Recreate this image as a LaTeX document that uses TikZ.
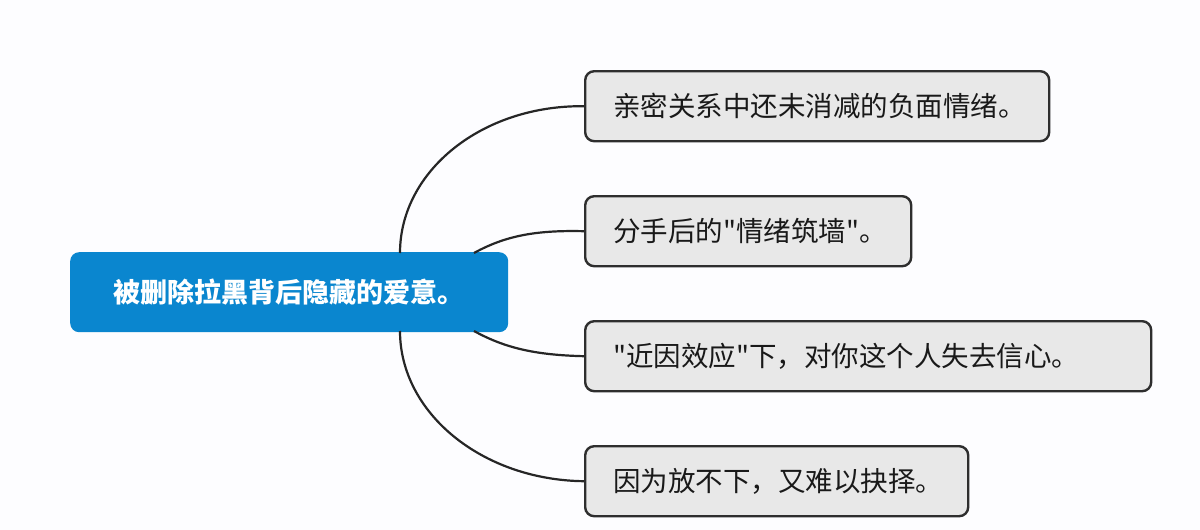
\documentclass[tikz,border=0pt]{standalone}
\usepackage{fontspec}
\newfontfamily\cjk{Noto Sans CJK SC}
\begin{document}
\begin{tikzpicture}[x=1pt,y=-1pt,
  leaf/.style={draw=black!82, line width=2.4pt, fill=black!9, rounded corners=9pt,
    anchor=north west, minimum height=70pt, inner xsep=28pt, inner ysep=0pt,
    align=left, font=\cjk\fontsize{27.5}{32}\selectfont, text=black!90},
  root/.style={fill=rootblue, rounded corners=9pt, anchor=north west,
    minimum width=438pt, minimum height=80pt, inner sep=0pt,
    font=\cjk\bfseries\fontsize{27}{32}\selectfont, text=white},
  link/.style={draw=black!85, line width=2.2pt}]
\definecolor{rootblue}{HTML}{0A86CF}
\fill[white!97!blue!20] (0,0) rectangle (1200,530);
\useasboundingbox (0,0) rectangle (1200,530);
\node[root] (c) at (70,252) {被删除拉黑背后隐藏的爱意。};
\node[leaf, text width=408pt] (b1) at (584,70) {亲密关系中还未消减的负面情绪。};
\node[leaf, text width=270pt] (b2) at (584,195) {分手后的"情绪筑墙"。};
\node[leaf, text width=510pt] (b3) at (584,320) {"近因效应"下，对你这个人失去信心。};
\node[leaf, text width=327pt] (b4) at (584,445) {因为放不下，又难以抉择。};
\coordinate (s1) at (400,253);
\coordinate (s2) at (474,253);
\coordinate (s3) at (474,331);
\coordinate (s4) at (400,331);
\draw[link] (s1) .. controls (400,171) and (482,105) .. (b1.west);
\draw[link] (s2) .. controls (505,236) and (535,230) .. (b2.west);
\draw[link] (s3) .. controls (505,348) and (535,355) .. (b3.west);
\draw[link] (s4) .. controls (400,413) and (482,480) .. (b4.west);
\end{tikzpicture}
\end{document}
